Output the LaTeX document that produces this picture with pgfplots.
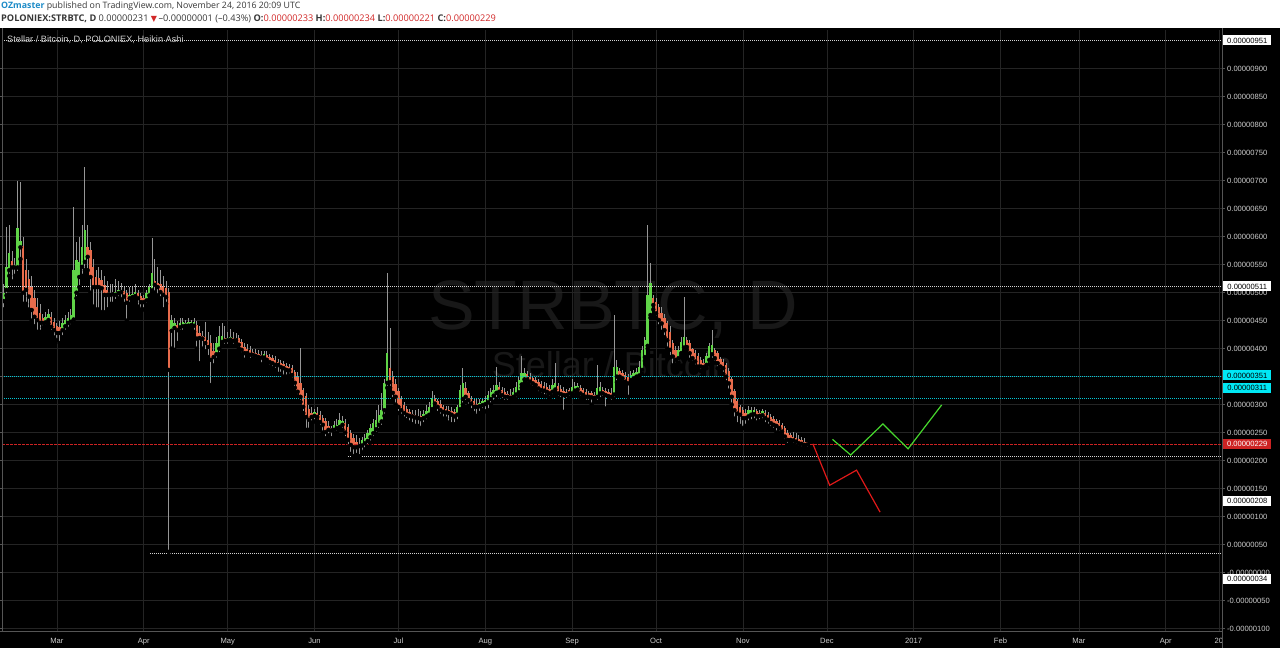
\documentclass[border=0pt]{standalone}
\usepackage{fontspec}
\usepackage{pgfplots}
\pgfplotsset{compat=1.18}
\usepackage{pgfplotstable}
\setmainfont{Liberation Sans}
\newfontfamily\hdr{Open Sans}
\newfontfamily\sym{DejaVu Sans}
\definecolor{gridc}{RGB}{36,36,36}
\definecolor{axc}{RGB}{85,85,85}
\definecolor{labc}{RGB}{205,205,205}
\definecolor{wickc}{RGB}{150,150,150}
\definecolor{upc}{RGB}{96,212,72}
\definecolor{dnc}{RGB}{232,108,76}
\definecolor{lvlw}{RGB}{210,210,210}
\definecolor{lvlc}{RGB}{0,200,215}
\definecolor{cyanbox}{RGB}{0,232,245}
\definecolor{redln}{RGB}{205,35,35}
\definecolor{projr}{RGB}{225,25,25}
\definecolor{projg}{RGB}{70,215,45}
\definecolor{ozblue}{RGB}{30,140,200}
\definecolor{hdrtxt}{RGB}{55,55,55}
\definecolor{hdrred}{RGB}{210,40,40}
\definecolor{wm}{RGB}{24,24,24}

\pgfplotstableread{
d o h l c
-19 485 515 470 500
-18 505 617 495 546
-17 540 620 530 571
-15 545 562 530 550
-14 545 700 535 615
-13 581 697 560 592
-4 447 465 440 457
-3 451 470 445 462
2 433 455 420 446
3 440 460 430 451
4 446 465 435 455
5 448 470 440 460
6 452 653 445 540
7 500 590 490 558
8 528 600 510 555
9 546 620 530 582
10 555 725 540 612
21 496 525 485 501
22 499 520 490 505
23 501 518 488 505
26 490 510 480 496
27 492 512 485 498
28 494 515 488 501
32 486 505 478 500
33 495 515 488 510
34 504 597 500 535
41 432 460 400 451
42 437 455 398 446
44 438 455 430 446
45 440 455 430 447
46 441 452 435 446
47 441 455 435 448
48 442 452 438 448
49 441 455 430 447
57 390 420 380 410
58 400 440 390 422
59 412 445 408 423
61 415 430 405 419
62 416 435 410 421
64 415 428 410 419
74 384 395 378 390
92 280 292 270 286
99 255 270 248 264
100 258 275 250 264
101 260 285 255 273
102 264 280 255 270
109 227 242 215 237
110 231 248 220 240
111 235 255 225 249
112 242 265 232 258
113 249 275 240 267
114 256 290 248 273
115 264 300 255 281
116 270 320 260 290
117 290 345 280 339
118 339 535 330 392
131 276 290 265 283
132 279 300 270 288
133 282 305 275 296
134 292 325 288 311
143 282 300 270 296
144 292 335 288 326
145 310 365 300 338
151 297 310 285 303
152 299 312 290 307
153 301 315 288 309
154 304 325 290 317
155 310 330 300 323
156 316 335 305 326
157 321 368 310 335
163 314 330 308 323
164 318 340 310 332
165 322 350 315 344
166 336 386 330 356
167 345 365 338 357
177 323 345 315 335
178 327 374 320 338
184 320 345 315 332
185 325 340 318 333
186 327 338 320 333
193 314 371 305 329
194 320 340 310 332
199 318 460 310 368
200 350 380 340 368
205 344 360 338 353
206 347 362 342 356
207 350 365 344 359
208 352 378 345 368
209 362 405 355 398
210 385 420 378 415
211 405 621 400 495
212 460 553 455 518
222 383 405 375 398
223 392 420 388 412
224 402 493 395 421
232 371 392 365 386
233 380 410 372 404
234 390 433 380 406
247 279 298 268 290
248 282 296 270 290
249 283 295 272 290
252 281 292 272 288
}\greenT

\pgfplotstableread{
d o h l c
-16 556 575 520 545
-12 583 600 480 500
-11 540 560 480 505
-10 525 540 470 493
-9 510 530 450 469
-8 490 505 440 457
-7 474 490 430 451
-6 463 480 430 446
-5 455 462 438 446
-2 456 465 430 439
-1 448 455 420 433
0 440 445 415 428
1 438 450 410 428
11 582 620 540 564
12 576 590 500 528
13 546 560 475 510
14 528 540 470 510
15 526 545 470 510
16 523 540 465 508
17 514 530 465 496
18 505 520 470 496
19 500 515 480 496
20 499 515 480 497
24 503 512 480 493
25 499 505 450 482
29 499 505 475 490
30 494 500 470 483
31 490 495 470 483
35 520 560 500 514
36 518 545 495 510
37 516 540 490 501
38 512 530 470 496
39 508 520 480 492
40 502 508 37 362
43 442 450 410 433
50 442 450 400 418
51 428 440 374 419
52 423 432 400 418
53 420 448 395 410
54 415 430 385 403
55 410 425 335 380
56 395 410 370 385
60 419 440 405 414
63 419 430 405 414
65 419 425 400 407
66 412 418 390 398
67 403 410 380 392
68 400 408 385 392
69 398 405 380 389
70 394 400 382 389
71 392 400 380 387
72 391 398 378 385
73 389 395 372 384
75 388 395 375 380
76 385 390 368 376
77 383 388 365 374
78 380 386 362 371
79 376 382 355 371
80 374 380 355 367
81 372 378 350 365
82 369 375 350 362
83 367 372 352 361
84 365 370 345 353
85 358 362 330 339
86 350 358 315 323
87 338 401 305 314
88 326 330 285 296
89 315 320 255 278
90 292 300 255 273
91 285 295 268 278
93 285 295 270 278
94 281 288 260 269
95 276 282 250 264
96 270 276 240 251
97 262 270 245 255
98 258 262 240 254
103 267 275 240 250
104 260 265 225 237
105 249 255 212 228
106 240 248 208 224
107 233 245 210 224
108 230 240 208 226
119 365 437 330 340
120 352 360 310 321
121 337 345 300 314
122 324 330 285 296
123 310 315 280 290
124 300 305 275 285
125 292 298 272 282
126 287 292 268 280
127 284 290 265 279
128 282 290 262 277
129 280 292 262 276
130 279 288 258 274
135 311 318 295 302
136 306 310 285 296
137 302 308 280 290
138 296 300 275 287
139 292 298 275 286
140 290 297 268 285
141 288 295 265 282
142 286 292 265 279
146 330 340 305 314
147 320 325 298 308
148 312 316 290 302
149 306 310 285 296
150 302 312 280 296
158 332 340 315 323
159 327 332 308 317
160 322 330 305 314
161 319 325 305 314
162 317 328 305 312
168 354 360 338 345
169 350 356 333 341
170 347 352 330 338
171 344 350 328 335
172 341 346 320 329
173 337 343 318 326
174 334 340 315 325
175 331 338 315 323
176 328 335 312 320
179 333 338 312 320
180 328 335 310 319
181 325 332 287 317
182 322 328 308 317
183 326 330 312 320
187 329 335 312 320
188 326 330 310 317
189 323 328 305 314
190 321 325 305 314
191 320 325 300 313
192 318 323 305 312
195 326 332 312 320
196 324 330 293 317
197 322 328 308 315
198 320 330 305 314
201 360 365 345 350
202 356 362 340 347
203 353 358 336 341
204 350 355 314 338
213 490 495 470 478
214 484 490 455 463
215 474 480 440 451
216 463 475 430 445
217 455 462 420 433
218 445 450 400 415
219 430 440 385 398
220 410 415 370 386
221 398 405 372 380
225 415 420 398 403
226 410 415 380 392
227 400 402 375 383
228 392 397 368 377
229 386 392 362 368
230 380 385 360 368
231 375 382 360 367
235 398 402 375 383
236 392 396 365 374
237 382 385 360 368
238 376 382 355 365
239 371 375 340 350
240 360 366 325 338
241 346 350 300 314
242 325 328 275 290
243 306 310 265 284
244 296 300 262 282
245 290 295 258 276
246 285 292 262 276
250 288 293 268 279
251 285 291 270 280
253 285 290 265 276
254 281 286 262 273
255 278 283 258 267
256 274 280 255 264
257 270 274 250 262
258 267 272 250 258
259 264 268 245 252
260 258 262 235 243
261 250 254 228 237
262 245 250 230 237
263 243 252 228 236
264 241 250 226 234
265 239 245 224 231
266 236 242 222 230
267 234 240 222 228
268 233 234 221 229
}\redT

\begin{document}
\begin{tikzpicture}
\useasboundingbox (0,0) rectangle (1280bp,648bp);
\fill[black] (0,0) rectangle (1280bp,620bp);
\fill[white] (0,620bp) rectangle (1280bp,648bp);
% header
\node[anchor=west, inner sep=0pt, text=hdrtxt, font=\hdr\fontsize{8.8bp}{10bp}\selectfont] at (1bp,641.5bp)
  {{\color{ozblue}\bfseries OZmaster} published on TradingView.com, November 24, 2016 20:09 UTC};
\node[anchor=west, inner sep=0pt, text=hdrtxt, font=\hdr\fontsize{9.2bp}{10bp}\selectfont] at (1bp,629bp)
  {\textbf{POLONIEX:STRBTC, D} 0.00000231 {\color{hdrred}\sym\fontsize{8bp}{8bp}\selectfont ▼}\,–0.00000001 (–0.43\%) \textbf{O:}{\color{hdrred}0.00000233} \textbf{H:}{\color{hdrred}0.00000234} \textbf{L:}{\color{hdrred}0.00000221} \textbf{C:}{\color{hdrred}0.00000229}};
% watermark
\node[text=wm, font=\fontsize{70bp}{70bp}\selectfont, inner sep=0pt] at (613bp,338bp) {STRBTC, D};
\node[text=wm, font=\fontsize{36bp}{36bp}\selectfont, inner sep=0pt] at (612bp,283bp) {Stellar / Bitcoin};
\begin{axis}[
  at={(2bp,17bp)}, anchor=south west,
  width=1220bp, height=601bp, scale only axis,
  xmin=-19.6, xmax=416.1, ymin=-104.3, ymax=969.1,
  axis line style={draw=none},
  xtick={0,31,61,92,122,153,184,214,245,275,306,337,365,396,415},
  xticklabels={Mar,Apr,May,Jun,Jul,Aug,Sep,Oct,Nov,Dec,2017,Feb,Mar,Apr,20},
  ytick={-100,-50,0,50,100,150,200,250,300,350,400,450,500,550,600,650,700,750,800,850,900},
  yticklabels={-0.00000100,-0.00000050,-0.00000000,0.00000050,0.00000100,0.00000150,0.00000200,0.00000250,0.00000300,0.00000350,0.00000400,0.00000450,0.00000500,0.00000550,0.00000600,0.00000650,0.00000700,0.00000750,0.00000800,0.00000850,0.00000900},
  yticklabel pos=right,
  xmajorgrids, ymajorgrids,
  grid style={gridc, line width=0.7bp},
  xtick style={draw=none},
  ytick style={axc, line width=0.6bp},
  tick align=outside, major tick length=3bp,
  yticklabel shift=2bp,
  xticklabel shift=4bp,
  ticklabel style={font=\fontsize{7.6bp}{8bp}\selectfont, text=labc, inner sep=0pt},
  yticklabel style={anchor=west},
  xticklabel style={anchor=north},
]
% wicks
\addplot[only marks, mark=none, error bars/.cd, y dir=plus, y explicit, error mark=none,
  error bar style={wickc, line width=0.9bp}]
  table[x=d, y=l, y error expr=\thisrow{h}-\thisrow{l}] {\greenT};
\addplot[only marks, mark=none, error bars/.cd, y dir=plus, y explicit, error mark=none,
  error bar style={wickc, line width=0.9bp}]
  table[x=d, y=l, y error expr=\thisrow{h}-\thisrow{l}] {\redT};
% bodies
\addplot[only marks, mark=none, error bars/.cd, y dir=plus, y explicit, error mark=none,
  error bar style={upc, line width=2.4bp}]
  table[x=d, y=o, y error expr=\thisrow{c}-\thisrow{o}] {\greenT};
\addplot[only marks, mark=none, error bars/.cd, y dir=plus, y explicit, error mark=none,
  error bar style={dnc, line width=2.4bp}]
  table[x=d, y=c, y error expr=\thisrow{o}-\thisrow{c}] {\redT};
% level lines
\addplot[lvlw, line width=0.8bp, dash pattern=on 1bp off 1bp] coordinates {(-19.6,951) (416.1,951)};
\addplot[lvlw, line width=0.8bp, dash pattern=on 1bp off 1bp] coordinates {(-19.6,511) (416.1,511)};
\addplot[lvlc, line width=0.8bp, dash pattern=on 1bp off 1bp] coordinates {(-19.6,351) (416.1,351)};
\addplot[lvlc, line width=0.8bp, dash pattern=on 1bp off 1bp] coordinates {(-19.6,311) (416.1,311)};
\addplot[redln, line width=0.9bp, dash pattern=on 2.5bp off 1.5bp] coordinates {(-19.6,229) (416.1,229)};
\addplot[lvlw, line width=0.8bp, dash pattern=on 1bp off 1bp] coordinates {(103.9,208) (416.1,208)};
\addplot[lvlw, line width=0.8bp, dash pattern=on 1bp off 1bp] coordinates {(33.2,34) (416.1,34)};
% projections
\addplot[projr, line width=1.2bp] coordinates {(270,230) (276,156) (285.6,183) (294,108)};
\addplot[projg, line width=1.2bp] coordinates {(277,238) (283.5,210) (295,265.5) (304,221) (316,299.5)};
\end{axis}
% frame lines
\draw[axc, line width=0.8bp] (1222.5bp,0) -- (1222.5bp,620bp);
\draw[axc, line width=0.8bp] (0,17bp) -- (1222.5bp,17bp);
\draw[axc, line width=0.6bp] (2.5bp,17bp) -- (2.5bp,620bp);
% series label
\node[anchor=west, inner sep=0pt, text=labc, font=\fontsize{9.2bp}{10bp}\selectfont] at (7bp,608bp) {Stellar / Bitcoin, D, POLONIEX, Heikin Ashi};
% price boxes
\tikzset{pbox/.style={anchor=west, inner sep=0pt, minimum width=48bp, minimum height=10bp, font=\fontsize{7.6bp}{8bp}\selectfont}}
\node[pbox, fill=white, text=black] at (1223bp,607.5bp) {0.00000951};
\node[pbox, fill=white, text=black] at (1223bp,361.5bp) {0.00000511};
\node[pbox, fill=cyanbox, text=black] at (1223bp,272.5bp) {0.00000351};
\node[pbox, fill=cyanbox, text=black] at (1223bp,260bp) {0.00000311};
\node[pbox, fill=redln, text=white] at (1223bp,203.7bp) {0.00000229};
\node[pbox, fill=white, text=black] at (1223bp,147bp) {0.00000208};
\node[pbox, fill=white, text=black] at (1223bp,68.7bp) {0.00000034};
\end{tikzpicture}
\end{document}
